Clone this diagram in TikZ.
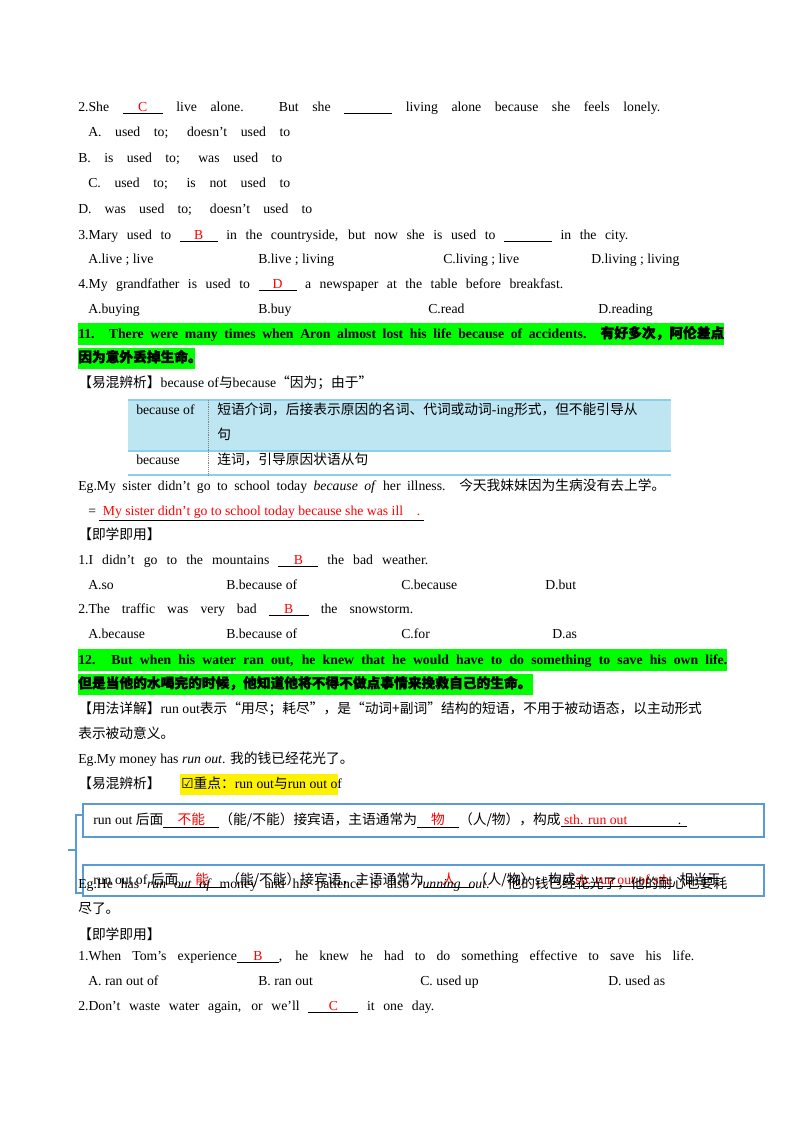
\documentclass[tikz,border=0pt]{standalone}
\usepackage{fontspec}
\setmainfont{Liberation Serif}
\newfontfamily\cjk[BoldFeatures={FakeBold=2}]{Noto Sans CJK SC}
\newfontfamily\sym{DejaVu Sans}
\newlength\px \setlength\px{0.75pt}
\newcommand\zh[1]{{\cjk #1}}
\newcommand\bl[2]{\underline{\makebox[#1\px]{\textcolor{red}{#2}}}}
\newcommand\jl[2]{\makebox[#1\px][s]{#2}}
\definecolor{hlg}{HTML}{00FF00}
\definecolor{tb}{HTML}{BDE6F2}
\definecolor{tbl}{HTML}{8CCFEA}
\definecolor{bx}{HTML}{5B9BD5}
\begin{document}
\begin{tikzpicture}[x=0.75pt,y=-0.75pt,
 t/.style={anchor=base west,inner sep=0,font=\fontsize{10.3}{12}\selectfont},
 box/.style={draw=bx,line width=1pt}]
\useasboundingbox (0,0) rectangle (800,1132);
% highlights
\fill[hlg] (78,323) rectangle (724,345);
\fill[hlg] (78,348) rectangle (195,369);
\fill[hlg] (78,649) rectangle (727,671);
\fill[hlg] (78,674) rectangle (533,695);
\fill[yellow] (180,774) rectangle (338,795);
% table
\fill[tb] (128,400) rectangle (671,451);
\draw[tbl,line width=1pt] (128,400) -- (671,400) (128,451) -- (671,451) (128,475) -- (671,475);
\draw[gray,densely dotted] (208,400) -- (208,475);
% boxes
\draw[box] (83,804) rectangle (764,837);
\draw[box] (83,865) rectangle (764,896);
\draw[bx,line width=1pt] (83,815) -- (76,815) -- (76,893) -- (83,893) (76,850) -- (68,850);

\node[t] (l1) at (78,111) {\jl{582}{2.She \bl{40}{C} live alone. But she \underline{\makebox[48\px]{}} living alone because she feels lonely.}};
\node[t] (l2) at (88,136) {\jl{202}{A. used to; doesn't used to}};
\node[t] (l3) at (78,162) {\jl{204}{B. is used to; was used to}};
\node[t] (l4) at (88,187) {\jl{202}{C. used to; is not used to}};
\node[t] (l5) at (78,213) {\jl{234}{D. was used to; doesn't used to}};
\node[t] (l6) at (78,239) {\jl{550}{3.Mary used to \bl{38}{B} in the countryside, but now she is used to \underline{\makebox[48\px]{}} in the city.}};
\node[t] (o1) at (88,263) {A.live ; live};
\node[t] (o2) at (258,263) {B.live ; living};
\node[t] (o3) at (443,263) {C.living ; live};
\node[t] (o4) at (591,263) {D.living ; living};
\node[t] (l7) at (78,288) {\jl{485}{4.My grandfather is used to \bl{38}{D} a newspaper at the table before breakfast.}};
\node[t] (p1) at (88,313) {A.buying};
\node[t] (p2) at (258,313) {B.buy};
\node[t] (p3) at (428,313) {C.read};
\node[t] (p4) at (598,313) {D.reading};
\node[t,font=\fontsize{10.3}{12}\selectfont\bfseries] (g1) at (78,338) {\jl{646}{11. There were many times when Aron almost lost his life because of accidents. \zh{有好多次，阿伦差点}}};
\node[t,font=\fontsize{10.3}{12}\selectfont\bfseries] (g2) at (78,362) {\zh{因为意外丢掉生命。}};
\node[t] (y1) at (78,387) {\zh{【易混辨析】}because of\zh{与}because\zh{“因为；由于”}};
\node[t] (c1) at (136,414) {because of};
\node[t] (c2) at (217,414) {\zh{短语介词，后接表示原因的名词、代词或动词}-ing\zh{形式，但不能引导从}};
\node[t] (c3) at (217,439) {\zh{句}};
\node[t] (c4) at (136,464) {because};
\node[t] (c5) at (217,464) {\zh{连词，引导原因状语从句}};
\node[t] (e1) at (78,490) {\jl{587}{Eg.My sister didn't go to school today \textit{because of} her illness. \zh{今天我妹妹因为生病没有去上学。}}};
\node[t] (e2) at (88,515) {= \underline{\textcolor{red}{\ My sister didn't go to school today because she was ill \ \ \ .\ }}};
\node[t] (j1) at (78,539) {\zh{【即学即用】}};
\node[t] (q1) at (78,564) {\jl{350}{1.I didn't go to the mountains \bl{40}{B} the bad weather.}};
\node[t] (r1) at (88,589) {A.so};
\node[t] (r2) at (226,589) {B.because of};
\node[t] (r3) at (401,589) {C.because};
\node[t] (r4) at (545,589) {D.but};
\node[t] (q2) at (78,613) {\jl{335}{2.The traffic was very bad \bl{40}{B} the snowstorm.}};
\node[t] (s1) at (88,638) {A.because};
\node[t] (s2) at (226,638) {B.because of};
\node[t] (s3) at (401,638) {C.for};
\node[t] (s4) at (552,638) {D.as};
\node[t,font=\fontsize{10.3}{12}\selectfont\bfseries] (g3) at (78,664) {\jl{649}{12. But when his water ran out, he knew that he would have to do something to save his own life.}};
\node[t,font=\fontsize{10.3}{12}\selectfont\bfseries] (g4) at (78,688) {\zh{但是当他的水喝完的时候，他知道他将不得不做点事情来挽救自己的生命。}};
\node[t] (u1) at (78,713) {\zh{【用法详解】}\mbox{run out}\zh{表示“用尽；耗尽”，是“动词+副词”结构的短语，不用于被动语态，以主动形式}};
\node[t] (u2) at (78,738) {\zh{表示被动意义。}};
\node[t] (u3) at (78,763) {Eg.My money has \textit{run out}. \zh{我的钱已经花光了。}};
\node[t] (y2) at (78,788) {\zh{【易混辨析】}};
\node[t] (y3) at (181,788) {{\sym ☑}\zh{重点：}run out\zh{与}run out of};
\node[t] (b1) at (93,824) {run out \zh{后面}\bl{56}{\zh{不能}}\zh{（能/不能）接宾语，主语通常为}\bl{42}{\zh{物}}\zh{（人/物），构成}\underline{\makebox[112\px][l]{\textcolor{red}{\ sth. run out}}\makebox[14\px]{.}}};
\node[t] (b2) at (93,884) {run out of \zh{后面}\bl{48}{\zh{能}}\zh{（能/不能）接宾语，主语通常为}\bl{50}{\zh{人}}\zh{（人/物），构成}\underline{\textcolor{red}{sb. run out of sth.}}\ \ \zh{相当于}};
\node[t] (e3) at (78,888) {\jl{649}{Eg.He has \textit{run out of} money and his patience is also \textit{running out}. \zh{他的钱已经花光了，他的耐心也要耗}}};
\node[t] (e4) at (78,913) {\zh{尽了。}};
\node[t] (j2) at (78,939) {\zh{【即学即用】}};
\node[t] (q3) at (78,960) {\jl{616}{1.When Tom's experience\bl{42}{B}, he knew he had to do something effective to save his life.}};
\node[t] (v1) at (88,985) {A. ran out of};
\node[t] (v2) at (258,985) {B. ran out};
\node[t] (v3) at (420,985) {C. used up};
\node[t] (v4) at (608,985) {D. used as};
\node[t] (q4) at (78,1010) {\jl{356}{2.Don't waste water again, or we'll \bl{50}{C} it one day.}};
\end{tikzpicture}
\end{document}
